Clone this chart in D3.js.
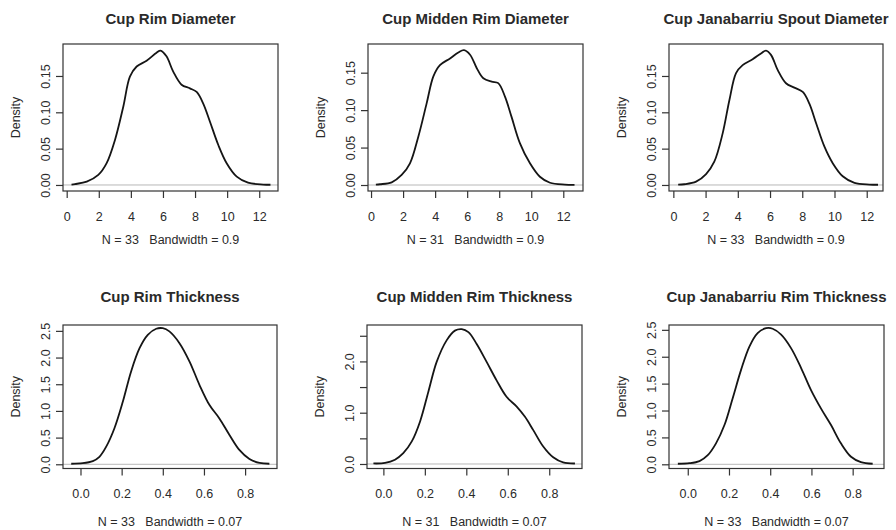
<!DOCTYPE html>
<html>
<head>
<meta charset="utf-8">
<script src="https://cdn.jsdelivr.net/npm/d3@7"></script>
<style>
  body { margin: 0; background: #fff; }
  svg { display: block; font-family: 'Liberation Sans', Arial, sans-serif; }
  text { fill: #2a2a2a; }
</style>
</head>
<body>
<div id="chart"></div>
<script>
// titles and subtitles
const titles = ['Cup Rim Diameter', 'Cup Midden Rim Diameter', 'Cup Janabarriu Spout Diameter',
  'Cup Rim Thickness', 'Cup Midden Rim Thickness', 'Cup Janabarriu Rim Thickness'];
const subtitles = ['N = 33   Bandwidth = 0.9', 'N = 31   Bandwidth = 0.9', 'N = 33   Bandwidth = 0.9',
  'N = 33   Bandwidth = 0.07', 'N = 31   Bandwidth = 0.07', 'N = 33   Bandwidth = 0.07'];

// tick values
const diameterTicksX = [0, 2, 4, 6, 8, 10, 12];
const diameterTicksY = [0, 0.05, 0.10, 0.15];
const thicknessTicksX = [0, 0.2, 0.4, 0.6, 0.8];
const thicknessTicksY = [0, 0.5, 1.0, 1.5, 2.0, 2.5];
const middenThicknessLabelsY = [0, 1.0, 2.0];

// density estimates
const rimDiameterX = [0.3, 0.52, 1.25, 1.97, 2.49, 3.01, 3.53, 3.94, 4.36, 4.98, 5.6, 5.85, 6.22, 6.64, 7.16, 7.68, 8.1, 8.51, 8.93, 9.45, 9.97, 10.6, 11.3, 12.25, 12.7];
const rimDiameterY = [0.0005, 0.0012, 0.0046, 0.0138, 0.030, 0.062, 0.108, 0.149, 0.163, 0.171, 0.182, 0.185, 0.177, 0.156, 0.138, 0.133, 0.128, 0.112, 0.087, 0.055, 0.030, 0.0115, 0.0032, 0.0006, 0.0003];

const middenDiameterX = [0.3, 0.56, 1.29, 1.91, 2.43, 2.95, 3.47, 3.89, 4.3, 4.93, 5.45, 5.8, 6.18, 6.6, 7.01, 7.53, 7.94, 8.36, 8.77, 9.29, 9.92, 10.54, 11.17, 12.1, 12.7];
const middenDiameterY = [0.0005, 0.001, 0.0036, 0.0134, 0.029, 0.0645, 0.109, 0.145, 0.160, 0.169, 0.177, 0.180, 0.174, 0.156, 0.1425, 0.138, 0.136, 0.118, 0.091, 0.056, 0.029, 0.011, 0.003, 0.0006, 0.0003];

const spoutDiameterX = [0.3, 0.68, 1.41, 2.03, 2.54, 3.06, 3.48, 3.89, 4.3, 4.92, 5.44, 5.75, 6.06, 6.48, 6.99, 7.51, 8.03, 8.44, 8.86, 9.37, 9.89, 10.51, 11.24, 12.17, 12.7];
const spoutDiameterY = [0.0004, 0.001, 0.0046, 0.015, 0.032, 0.071, 0.117, 0.154, 0.165, 0.173, 0.181, 0.185, 0.179, 0.158, 0.14, 0.134, 0.128, 0.112, 0.085, 0.053, 0.030, 0.012, 0.003, 0.0006, 0.0003];

const rimThicknessX = [-0.045, 0.011, 0.06, 0.092, 0.125, 0.165, 0.206, 0.246, 0.287, 0.327, 0.368, 0.4, 0.432, 0.481, 0.53, 0.578, 0.627, 0.675, 0.724, 0.772, 0.821, 0.87, 0.918];
const rimThicknessY = [0.01, 0.02, 0.06, 0.14, 0.33, 0.675, 1.175, 1.74, 2.175, 2.425, 2.54, 2.55, 2.49, 2.27, 1.925, 1.49, 1.11, 0.86, 0.55, 0.27, 0.1, 0.025, 0.01];

const middenThicknessX = [-0.048, 0.008, 0.056, 0.096, 0.137, 0.177, 0.217, 0.257, 0.305, 0.345, 0.378, 0.41, 0.45, 0.498, 0.546, 0.594, 0.643, 0.683, 0.723, 0.771, 0.819, 0.867, 0.924];
const middenThicknessY = [0.01, 0.02, 0.084, 0.21, 0.44, 0.83, 1.41, 1.99, 2.41, 2.6, 2.63, 2.57, 2.34, 1.99, 1.63, 1.31, 1.12, 0.92, 0.66, 0.34, 0.13, 0.03, 0.01];

const janabarriuThicknessX = [-0.048, 0.008, 0.057, 0.097, 0.137, 0.178, 0.218, 0.259, 0.299, 0.339, 0.38, 0.412, 0.453, 0.501, 0.55, 0.598, 0.646, 0.695, 0.743, 0.792, 0.84, 0.897];
const janabarriuThicknessY = [0.01, 0.02, 0.06, 0.17, 0.39, 0.73, 1.23, 1.76, 2.19, 2.44, 2.53, 2.52, 2.41, 2.16, 1.79, 1.38, 1.04, 0.73, 0.39, 0.14, 0.04, 0.01];

// layout of the 2 x 3 grid (pixel boxes and axis limits, R style)
const rows = [
  { top: 44, bottom: 191, titleY: 24, subY: 244 },
  { top: 325, bottom: 468.5, titleY: 301.5, subY: 526 }
];

const panels = [
  { row: 0, left: 63, right: 278, xs: rimDiameterX, ys: rimDiameterY, xdom: [-0.23, 13.17], ydom: [-0.0083, 0.194], tx: diameterTicksX, ty: diameterTicksY, ly: diameterTicksY, fmt: d3.format('.2f') },
  { row: 0, left: 368, right: 583, xs: middenDiameterX, ys: middenDiameterY, xdom: [-0.19, 13.23], ydom: [-0.008, 0.1883], tx: diameterTicksX, ty: diameterTicksY, ly: diameterTicksY, fmt: d3.format('.2f') },
  { row: 0, left: 669, right: 883, xs: spoutDiameterX, ys: spoutDiameterY, xdom: [-0.27, 13.01], ydom: [-0.0083, 0.194], tx: diameterTicksX, ty: diameterTicksY, ly: diameterTicksY, fmt: d3.format('.2f') },
  { row: 1, left: 63, right: 277, xs: rimThicknessX, ys: rimThicknessY, xdom: [-0.085, 0.955], ydom: [-0.079, 2.61], tx: thicknessTicksX, ty: thicknessTicksY, ly: thicknessTicksY, fmt: d3.format('.1f') },
  { row: 1, left: 367, right: 582, xs: middenThicknessX, ys: middenThicknessY, xdom: [-0.079, 0.958], ydom: [-0.088, 2.71], tx: thicknessTicksX, ty: thicknessTicksY, ly: middenThicknessLabelsY, fmt: d3.format('.1f') },
  { row: 1, left: 669, right: 884, xs: janabarriuThicknessX, ys: janabarriuThicknessY, xdom: [-0.091, 0.952], ydom: [-0.078, 2.59], tx: thicknessTicksX, ty: thicknessTicksY, ly: thicknessTicksY, fmt: d3.format('.1f') }
];

const svg = d3.select('#chart').append('svg')
  .attr('width', 896)
  .attr('height', 530);

svg.append('rect')
  .attr('width', 896)
  .attr('height', 530)
  .attr('fill', '#fff');

panels.forEach((p, i) => {
  const r = rows[p.row];
  const cx = (p.left + p.right) / 2;

  const x = d3.scaleLinear().domain(p.xdom).range([p.left, p.right]);
  const y = d3.scaleLinear().domain(p.ydom).range([r.bottom, r.top]);

  const g = svg.append('g').attr('class', 'panel');

  // zero line
  g.append('line')
    .attr('x1', p.left).attr('x2', p.right)
    .attr('y1', y(0)).attr('y2', y(0))
    .attr('stroke', '#b8b8b8')
    .attr('stroke-width', 1);

  // density curve
  const line = d3.line()
    .curve(d3.curveCatmullRom.alpha(0.5))
    .x((d) => { return x(d[0]); })
    .y((d) => { return y(d[1]); });

  g.append('path')
    .datum(d3.zip(p.xs, p.ys))
    .attr('d', line)
    .attr('fill', 'none')
    .attr('stroke', '#151515')
    .attr('stroke-width', 1.8)
    .attr('stroke-linejoin', 'round');

  // box
  g.append('rect')
    .attr('x', p.left).attr('y', r.top)
    .attr('width', p.right - p.left)
    .attr('height', r.bottom - r.top)
    .attr('fill', 'none')
    .attr('stroke', '#333')
    .attr('stroke-width', 1.2);

  // x axis
  const xAxis = d3.axisBottom(x)
    .tickValues(p.tx)
    .tickSize(7)
    .tickSizeOuter(0)
    .tickPadding(14)
    .tickFormat(p.row === 0 ? d3.format('d') : d3.format('.1f'));

  const xg = g.append('g')
    .attr('transform', 'translate(0,' + r.bottom + ')')
    .call(xAxis);
  xg.select('.domain').remove();
  xg.selectAll('line').attr('stroke', '#333').attr('stroke-width', 1.2);
  xg.selectAll('text').attr('font-size', 12.5).attr('fill', '#2a2a2a').attr('font-family', null);

  // y axis, labels parallel to the axis
  const yAxis = d3.axisLeft(y)
    .tickValues(p.ty)
    .tickSize(7)
    .tickSizeOuter(0)
    .tickFormat((d) => { return p.ly.includes(d) ? p.fmt(d) : ''; });

  const yg = g.append('g')
    .attr('transform', 'translate(' + p.left + ',0)')
    .call(yAxis);
  yg.select('.domain').remove();
  yg.selectAll('line').attr('stroke', '#333').attr('stroke-width', 1.2);
  yg.selectAll('text')
    .attr('font-size', 12.5)
    .attr('fill', '#2a2a2a')
    .attr('font-family', null)
    .attr('text-anchor', 'middle')
    .attr('x', 0)
    .attr('y', -13)
    .attr('dy', 0)
    .attr('transform', 'rotate(-90)');

  // y label
  g.append('text')
    .attr('transform', 'translate(' + (p.left - 43) + ',' + ((r.top + r.bottom) / 2) + ') rotate(-90)')
    .attr('text-anchor', 'middle')
    .attr('font-size', 12.5)
    .text('Density');

  // title
  g.append('text')
    .attr('x', cx)
    .attr('y', r.titleY)
    .attr('text-anchor', 'middle')
    .attr('font-size', 15)
    .attr('font-weight', 'bold')
    .text(titles[i]);

  // subtitle
  g.append('text')
    .attr('x', cx)
    .attr('y', r.subY)
    .attr('text-anchor', 'middle')
    .attr('font-size', 12.5)
    .style('white-space', 'pre')
    .text(subtitles[i]);
});
</script>
</body>
</html>
